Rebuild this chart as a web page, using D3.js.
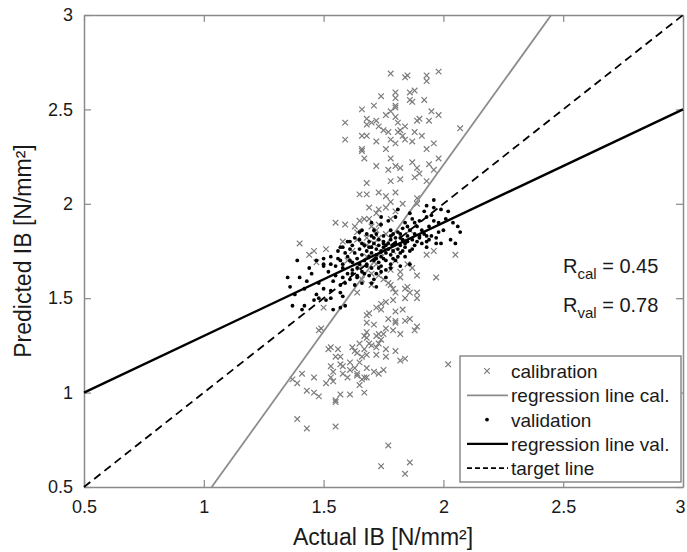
<!DOCTYPE html>
<html>
<head>
<meta charset="utf-8">
<script src="https://cdn.jsdelivr.net/npm/d3@7"></script>
<style>
  body { margin: 0; background: #fff; }
  svg { font-family: "Liberation Sans", Arial, sans-serif; }
</style>
</head>
<body>
<svg id="chart" width="687" height="552"></svg>
<script>
// calibration points [actual, predicted]
var calibration = [
  [1.78,2.69],[1.84,2.67],[1.85,2.68],[1.93,2.68],[1.93,2.65],[1.98,2.70],[1.74,2.57],[1.80,2.59],
  [1.80,2.56],[1.86,2.59],[1.88,2.60],[1.86,2.55],[1.87,2.54],[1.92,2.55],[1.71,2.52],[1.80,2.51],
  [1.80,2.52],[1.66,2.50],[1.95,2.49],[1.98,2.47],[1.59,2.43],[1.68,2.45],[1.70,2.43],[1.72,2.44],
  [1.68,2.42],[1.76,2.47],[1.78,2.49],[1.80,2.46],[1.81,2.43],[1.84,2.41],[1.89,2.44],[1.90,2.45],
  [1.94,2.44],[2.07,2.40],[1.73,2.41],[1.75,2.39],[1.77,2.38],[1.81,2.38],[1.82,2.39],[1.88,2.38],
  [1.91,2.36],[1.83,2.36],[1.84,2.34],[1.87,2.33],[1.59,2.34],[1.66,2.36],[1.68,2.36],[1.72,2.33],
  [1.78,2.34],[1.80,2.32],[1.76,2.29],[1.66,2.29],[1.66,2.28],[1.93,2.29],[1.96,2.32],[1.67,2.24],
  [1.72,2.20],[1.78,2.24],[1.82,2.19],[1.87,2.22],[1.89,2.19],[1.94,2.21],[1.98,2.24],[1.77,2.18],
  [1.80,2.20],[1.68,2.11],[1.78,2.12],[1.82,2.13],[1.88,2.14],[1.90,2.16],[1.96,2.18],[1.93,2.12],
  [1.65,2.05],[1.68,2.05],[1.73,2.06],[1.76,2.04],[1.80,2.06],[1.78,2.01],[1.83,2.00],[1.89,2.03],
  [1.89,2.00],[1.69,1.98],[1.72,1.95],[1.73,1.97],[1.76,1.98],[1.80,1.96],[1.55,1.90],[1.59,1.89],
  [1.63,1.88],[1.65,1.91],[1.67,1.92],[1.70,1.88],[1.73,1.89],[1.78,1.92],[1.64,1.81],[1.68,1.82],
  [1.68,1.78],[1.73,1.82],[1.40,1.79],[1.46,1.75],[1.51,1.76],[1.93,1.73],[1.96,1.75],[2.05,1.73],
  [1.44,1.73],[1.47,1.69],[1.87,1.66],[1.89,1.62],[1.82,1.61],[1.97,1.61],[1.64,1.53],[1.79,1.55],
  [1.80,1.53],[1.84,1.55],[1.86,1.53],[1.89,1.53],[1.76,1.48],[1.79,1.49],[1.84,1.50],[1.89,1.50],
  [1.74,1.44],[1.72,1.45],[1.68,1.41],[1.80,1.43],[1.83,1.44],[1.86,1.39],[1.80,1.38],[1.77,1.39],
  [1.89,1.35],[1.88,1.33],[1.68,1.37],[1.71,1.36],[1.76,1.34],[1.79,1.33],[1.68,1.32],[1.67,1.30],
  [1.72,1.30],[1.74,1.28],[1.69,1.26],[1.72,1.24],[1.49,1.34],[1.48,1.33],[1.53,1.24],[1.56,1.23],
  [1.62,1.24],[1.64,1.21],[1.66,1.19],[1.55,1.19],[1.76,1.23],[1.80,1.22],[1.82,1.17],[1.84,1.18],
  [1.65,1.16],[1.61,1.16],[1.58,1.14],[1.53,1.14],[1.68,1.13],[1.71,1.11],[1.75,1.12],[2.02,1.15],
  [1.41,1.10],[1.46,1.08],[1.53,1.08],[1.54,1.11],[1.64,1.10],[1.67,1.08],[1.78,1.57],[1.85,1.56],
  [1.74,1.47],[1.69,1.42],[1.80,1.37],[1.84,1.38],[1.73,1.31],[1.75,1.31],[1.82,1.31],[1.68,1.29],
  [1.70,1.25],[1.73,1.26],[1.65,1.26],[1.63,1.22],[1.67,1.23],[1.68,1.20],[1.72,1.20],[1.76,1.19],
  [1.52,1.23],[1.57,1.19],[1.50,1.45],[1.57,1.15],[1.58,1.10],[1.61,1.12],[1.60,1.08],[1.63,1.13],
  [1.64,1.09],[1.66,1.07],[1.68,1.08],[1.65,1.04],[1.73,1.10],[1.37,1.07],[1.39,1.05],[1.51,1.05],
  [1.54,1.06],[1.43,1.01],[1.46,1.00],[1.48,0.98],[1.57,0.99],[1.55,0.96],[1.55,0.95],[1.61,0.99],
  [1.67,1.00],[1.39,0.86],[1.43,0.81],[1.55,0.82],[1.77,0.72],[1.74,0.61],[1.86,0.63],[1.84,0.57],
  [1.60,1.70],[1.65,1.66],[1.70,1.63],[1.75,1.60],[1.72,1.68],[1.78,1.65],[1.80,1.70],[1.68,1.72],
  [1.62,1.75],[1.74,1.74],[1.82,1.64],[1.77,1.58],[1.70,1.57],[1.85,1.68],[1.66,1.60],[1.73,1.62],
  [1.79,1.75],[1.64,1.85],[1.71,1.79],[1.76,1.84],[1.83,1.80],[1.86,1.86],[1.58,1.80],[1.69,1.92],
  [1.72,1.86]
];

// validation points [actual, predicted]
var validation = [
  [1.93,1.99],[1.96,2.02],[1.96,1.98],[1.95,1.94],[2.02,1.96],[2.04,1.90],[2.07,1.85],[1.93,1.80],
  [1.93,1.77],[1.97,1.79],[2.05,1.79],[1.65,1.85],[1.61,1.80],[1.57,1.77],[1.56,1.75],[1.39,1.70],
  [1.47,1.70],[1.50,1.67],[1.53,1.68],[1.40,1.61],[1.43,1.59],[1.47,1.52],[1.37,1.46],[1.41,1.44],
  [1.48,1.50],[1.51,1.49],[1.53,1.50],[1.53,1.54],[1.57,1.53],[1.57,1.57],[1.59,1.58],[1.58,1.61],
  [1.62,1.63],[1.55,1.67],[1.58,1.68],[1.61,1.70],[1.50,1.68],[1.50,1.71],[1.53,1.72],[1.61,1.76],
  [1.66,1.79],[1.70,1.83],[1.72,1.84],[1.75,1.79],[1.78,1.83],[1.82,1.82],[1.84,1.79],[1.87,1.76],
  [1.90,1.83],[1.94,1.81],[1.98,1.85],[1.71,1.60],[1.72,1.56],[1.74,1.64],[1.78,1.66],[1.80,1.70],
  [1.86,1.68],[1.84,1.72],[1.82,1.67],[1.68,1.67],[1.65,1.68],[1.64,1.61],[1.59,1.46],[1.57,1.45],
  [1.58,1.51],[1.54,1.44],[1.46,1.49],[1.42,1.46],
  [1.60,1.72],[1.62,1.69],[1.63,1.74],[1.64,1.71],[1.65,1.76],[1.66,1.73],[1.67,1.70],[1.67,1.78],
  [1.68,1.75],[1.69,1.72],[1.69,1.80],[1.70,1.77],[1.70,1.74],[1.71,1.70],[1.71,1.79],[1.72,1.76],
  [1.72,1.73],[1.73,1.81],[1.73,1.78],[1.73,1.69],[1.74,1.75],[1.74,1.72],[1.75,1.80],[1.75,1.77],
  [1.75,1.83],[1.76,1.74],[1.76,1.70],[1.77,1.79],[1.77,1.76],[1.78,1.73],[1.78,1.81],[1.78,1.86],
  [1.79,1.78],[1.79,1.75],[1.80,1.82],[1.80,1.79],[1.81,1.76],[1.81,1.85],[1.82,1.78],[1.82,1.74],
  [1.83,1.81],[1.83,1.87],[1.84,1.77],[1.85,1.83],[1.85,1.80],[1.86,1.86],[1.87,1.81],[1.88,1.84],
  [1.88,1.78],[1.89,1.88],[1.90,1.82],[1.91,1.86],[1.92,1.84],[1.94,1.88],[1.95,1.83],[1.98,1.90],
  [2.00,1.86],[1.62,1.78],[1.64,1.66],[1.66,1.64],[1.68,1.68],[1.70,1.66],[1.72,1.63],[1.74,1.67],
  [1.76,1.65],[1.65,1.81],[1.68,1.84],[1.71,1.86],[1.74,1.89],[1.77,1.91],[1.80,1.93],[1.84,1.90],
  [1.87,1.92],[1.57,1.70],[1.58,1.66],[1.59,1.74],[1.55,1.62],[1.56,1.71],[1.52,1.64],[1.54,1.59],
  [1.60,1.63],[1.61,1.60],[1.63,1.57],[1.66,1.58],[1.69,1.62],[1.72,1.71],[1.75,1.71],[1.79,1.71],
  [1.81,1.72],[1.83,1.75],[1.86,1.75],[1.89,1.80],[1.91,1.79],[1.93,1.83],[1.97,1.82],[1.99,1.79],
  [1.71,1.82],[1.69,1.77],[1.76,1.78],[1.79,1.84],[1.82,1.84],[1.85,1.88],[1.88,1.90],[1.90,1.91],
  [1.93,1.93],[1.96,1.91],[1.73,1.66],[1.67,1.63],[1.64,1.62],[1.62,1.65],[1.70,1.58],[1.76,1.61],
  [1.78,1.68],[1.66,1.86],[1.63,1.82],[1.60,1.80],[1.58,1.77],[1.70,1.90],[1.74,1.93],[1.81,1.97],
  [1.86,1.95],[1.45,1.63],[1.48,1.58],[1.50,1.55],[1.44,1.66],[1.42,1.55],[1.36,1.56],[1.38,1.52],
  [1.35,1.61],[2.03,1.81],[2.01,1.92],[1.99,1.97],[1.92,1.96],[2.06,1.88]
];

// line end points
var calLine = [[1.033, 0.5], [2.45, 3]];
var valLine = [[0.5, 1.0], [3, 2.5]];
var targetLine = [[0.5, 0.5], [3, 3]];

var xTicks = [0.5, 1, 1.5, 2, 2.5, 3];
var yTicks = [0.5, 1, 1.5, 2, 2.5, 3];
var legendLabels = ["calibration", "regression line cal.", "validation", "regression line val.", "target line"];
var rValues = [["R", "cal", " = 0.45"], ["R", "val", " = 0.78"]];

var margin = {left: 84, right: 4, top: 15, bottom: 65};
var W = 687, H = 552;
var svg = d3.select("#chart");
var x = d3.scaleLinear().domain([0.5, 3]).range([margin.left, W - margin.right]);
var y = d3.scaleLinear().domain([0.5, 3]).range([H - margin.bottom, margin.top]);
var axisColor = "#8a8a8a";
var fmt = function(d) { return String(d); };

function styleAxis(g) {
  g.select(".domain").attr("stroke", axisColor).attr("stroke-width", 1.5);
  g.selectAll(".tick line").attr("stroke", axisColor).attr("stroke-width", 1.2);
  g.selectAll(".tick text").attr("fill", "#1a1a1a").style("font-size", "18px");
}

var xa = svg.append("g").attr("transform", "translate(0," + y(0.5) + ")")
  .call(d3.axisBottom(x).tickValues(xTicks).tickFormat(fmt).tickSize(-7).tickSizeOuter(0).tickPadding(13))
  .call(styleAxis);
// last label sits at the window edge, nudge it in a little
xa.selectAll(".tick text").filter(function(d) { return d === 3; }).attr("dx", -3);
svg.append("g").attr("transform", "translate(0," + y(3) + ")")
  .call(d3.axisTop(x).tickValues(xTicks).tickFormat("").tickSize(-7).tickSizeOuter(0))
  .call(styleAxis);
svg.append("g").attr("transform", "translate(" + x(0.5) + ",0)")
  .call(d3.axisLeft(y).tickValues(yTicks).tickFormat(fmt).tickSize(-7).tickSizeOuter(0).tickPadding(11))
  .call(styleAxis);
svg.append("g").attr("transform", "translate(" + x(3) + ",0)")
  .call(d3.axisRight(y).tickValues(yTicks).tickFormat("").tickSize(-7).tickSizeOuter(0))
  .call(styleAxis);

// axis titles
svg.append("text").attr("x", 383).attr("y", 545).attr("text-anchor", "middle")
  .style("font-size", "23px").attr("fill", "#1a1a1a").text("Actual IB [N/mm²]");
svg.append("text").attr("transform", "translate(31," + y(1.75) + ") rotate(-90)")
  .attr("text-anchor", "middle").style("font-size", "23px").attr("fill", "#1a1a1a")
  .text("Predicted IB [N/mm²]");

var plot = svg.append("g");
var calColor = "#7c7c7c";

function cross(sel, s) {
  sel.append("path")
    .attr("d", "M" + (-s) + "," + (-s) + "L" + s + "," + s + "M" + (-s) + "," + s + "L" + s + "," + (-s))
    .attr("stroke", calColor).attr("stroke-width", 1.2).attr("fill", "none");
}

plot.selectAll("g.cal").data(calibration).enter().append("g").attr("class", "cal")
  .attr("transform", function(d) { return "translate(" + x(d[0]) + "," + y(d[1]) + ")"; })
  .call(cross, 2.8);

var line = d3.line().x(function(d) { return x(d[0]); }).y(function(d) { return y(d[1]); });

plot.append("path").datum(calLine).attr("d", line)
  .attr("stroke", "#8c8c8c").attr("stroke-width", 1.8).attr("fill", "none");

plot.selectAll("circle.val").data(validation).enter().append("circle").attr("class", "val")
  .attr("cx", function(d) { return x(d[0]); })
  .attr("cy", function(d) { return y(d[1]); })
  .attr("r", 1.9).attr("fill", "#000");

plot.append("path").datum(valLine).attr("d", line)
  .attr("stroke", "#000").attr("stroke-width", 2.4).attr("fill", "none");
plot.append("path").datum(targetLine).attr("d", line)
  .attr("stroke", "#000").attr("stroke-width", 1.8).attr("stroke-dasharray", "8,5").attr("fill", "none");

// R annotations
rValues.forEach(function(r, i) {
  var t = svg.append("text").attr("x", 563).attr("y", 273 + i * 39)
    .style("font-size", "20px").attr("fill", "#1a1a1a");
  t.append("tspan").text(r[0]);
  t.append("tspan").attr("dy", 6).style("font-size", "15px").text(r[1]);
  t.append("tspan").attr("dy", -6).text(r[2]);
});

// legend
var lg = svg.append("g");
lg.append("rect").attr("x", 460).attr("y", 356).attr("width", 221).attr("height", 126)
  .attr("fill", "#fff").attr("stroke", axisColor).attr("stroke-width", 1.5);
legendLabels.forEach(function(lab, i) {
  var cy = 371 + i * 24.3;
  var g = lg.append("g");
  if (i === 0) {
    g.append("g").attr("transform", "translate(487," + cy + ")").call(cross, 2.8);
  } else if (i === 2) {
    g.append("circle").attr("cx", 487).attr("cy", cy).attr("r", 1.9).attr("fill", "#000");
  } else {
    var ln = g.append("line").attr("x1", 467).attr("x2", 508).attr("y1", cy).attr("y2", cy).attr("fill", "none");
    if (i === 1) ln.attr("stroke", "#8c8c8c").attr("stroke-width", 1.8);
    if (i === 3) ln.attr("stroke", "#000").attr("stroke-width", 2.4);
    if (i === 4) ln.attr("stroke", "#000").attr("stroke-width", 1.8).attr("stroke-dasharray", "5,3");
  }
  g.append("text").attr("x", 511).attr("y", cy + 7).style("font-size", "19px")
    .attr("fill", "#1a1a1a").text(lab);
});
</script>
</body>
</html>
